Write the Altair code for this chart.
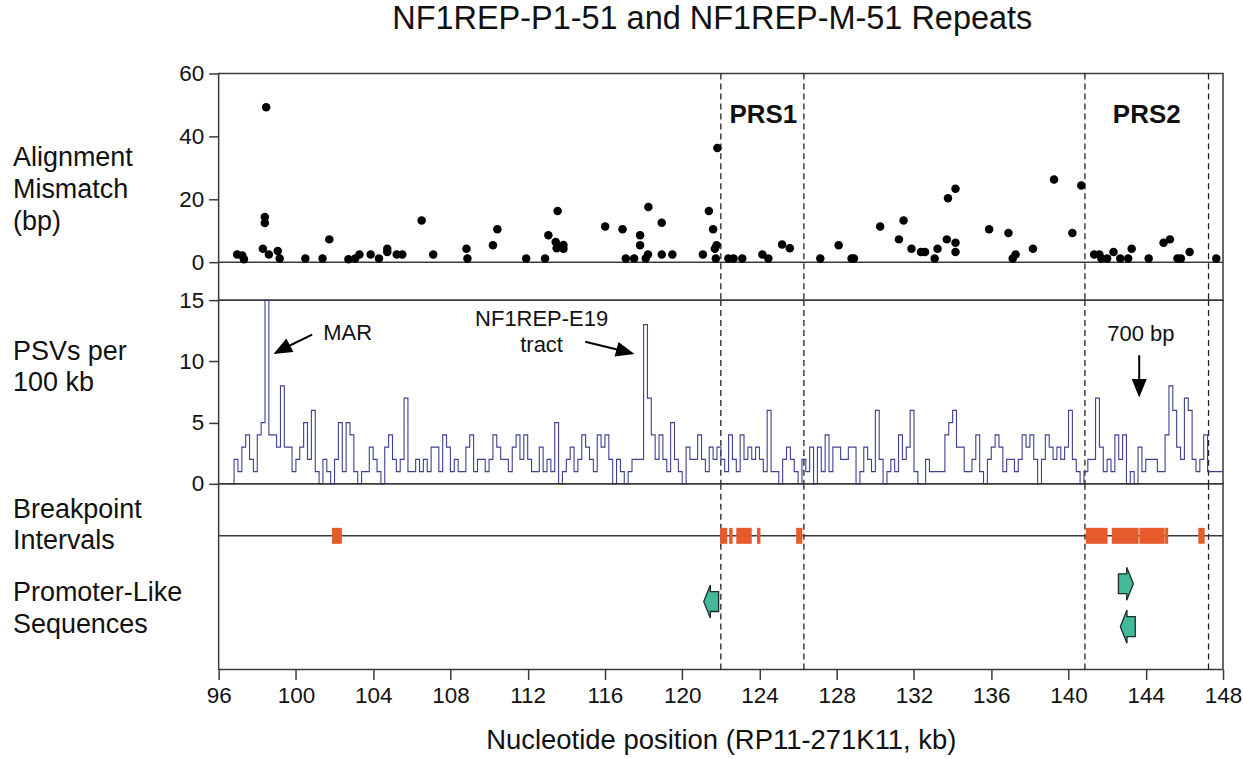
import altair as alt
import pandas as pd

# ---------------- data ----------------
# Alignment mismatch points (kb, bp)
mm_pos = [96.96, 97.22, 97.31, 98.46, 98.39, 98.39, 98.29, 98.6, 99.06, 99.16,
          100.49, 101.38, 101.73, 102.72, 103.07, 103.29, 103.87, 104.3, 104.73, 104.73,
          105.22, 105.51, 106.51, 107.11, 108.83, 108.88, 110.2, 110.43, 111.92, 112.9,
          113.07, 113.55, 113.45, 113.5, 113.6, 113.85, 113.85, 116.01, 116.91, 117.08,
          117.51, 117.82, 117.82, 118.11, 118.23, 118.25, 118.94, 118.94, 119.49, 121.07,
          121.38, 121.6, 121.69, 121.78, 121.74, 121.82, 122.39, 122.66, 123.11, 124.15,
          124.46, 125.17, 125.57, 127.15, 128.1, 128.77, 128.89, 130.25, 131.22, 131.46,
          131.87, 132.36, 132.57, 133.07, 133.22, 133.7, 133.76, 134.15, 134.15, 134.15,
          135.89, 136.89, 137.11, 137.26, 138.16, 139.25, 140.2, 140.66, 141.33, 141.6,
          141.7, 142.0, 142.33, 142.68, 143.09, 143.27, 144.15, 144.92, 145.25, 145.64,
          145.82, 146.27, 147.65]
mm_val = [2.5, 2.2, 1.0, 49.3, 14.4, 12.5, 4.3, 2.5, 3.6, 1.2,
          1.2, 1.2, 7.3, 1.0, 1.2, 2.5, 2.5, 1.2, 4.3, 3.3,
          2.5, 2.5, 13.3, 2.5, 4.3, 1.2, 5.4, 10.5, 1.2, 1.2,
          8.6, 16.3, 6.5, 4.5, 5.0, 5.5, 4.3, 11.4, 10.5, 1.2,
          1.2, 8.6, 5.4, 1.2, 2.5, 17.6, 12.6, 2.5, 2.5, 2.5,
          16.3, 10.5, 4.3, 5.4, 1.2, 36.3, 1.2, 1.2, 1.2, 2.5,
          1.2, 5.7, 4.5, 1.2, 5.4, 1.2, 1.2, 11.4, 7.3, 13.3,
          4.3, 3.3, 3.3, 1.2, 4.3, 7.3, 20.4, 23.4, 6.2, 3.3,
          10.5, 9.3, 1.2, 2.5, 4.3, 26.3, 9.3, 24.4, 2.5, 2.5,
          1.2, 1.2, 3.3, 1.2, 1.2, 4.3, 1.2, 6.2, 7.3, 1.2,
          1.2, 3.3, 1.2]

# PSVs per 100 kb, sampled every 0.2 kb starting at 96.6 kb
psv_start = 96.6
psv_step = 0.2
psv_val = [0, 2, 1, 3, 4, 2, 1, 4, 5, 15,
           4, 4, 3, 8, 3, 3, 1, 2, 3, 5,
           2, 6, 1, 0, 2, 1, 0, 2, 5, 1,
           5, 4, 1, 0, 1, 1, 3, 2, 1, 0,
           3, 4, 2, 1, 2, 7, 1, 1, 2, 1,
           2, 1, 3, 3, 1, 4, 3, 1, 2, 1,
           1, 3, 4, 1, 2, 2, 1, 2, 4, 3,
           2, 2, 1, 3, 4, 2, 4, 2, 1, 1,
           3, 1, 2, 1, 5, 0, 1, 2, 3, 1,
           2, 4, 3, 2, 1, 4, 3, 4, 2, 0,
           2, 1, 0, 1, 2, 2, 2, 13, 7, 4,
           2, 4, 2, 1, 5, 2, 1, 0, 3, 2,
           2, 4, 2, 1, 3, 2, 3, 2, 1, 4,
           2, 1, 4, 2, 3, 2, 3, 2, 1, 6,
           1, 1, 0, 2, 3, 2, 1, 0, 2, 1,
           3, 0, 3, 1, 4, 1, 3, 3, 2, 2,
           3, 3, 0, 1, 3, 2, 1, 6, 2, 0,
           1, 2, 1, 4, 2, 3, 6, 1, 0, 0,
           2, 1, 1, 1, 1, 4, 5, 6, 3, 3,
           1, 1, 2, 4, 1, 0, 2, 3, 4, 3,
           1, 2, 2, 1, 2, 4, 3, 4, 2, 0,
           2, 4, 3, 2, 3, 2, 3, 6, 2, 1,
           0, 1, 2, 2, 7, 3, 1, 2, 1, 4,
           2, 4, 0, 1, 0, 3, 1, 2, 2, 2,
           1, 1, 4, 8, 6, 3, 2, 7, 6, 2,
           1, 2, 4, 1, 1, 1, 1, 1]

# Breakpoint intervals (kb)
bp_start = [101.87, 121.96, 122.43, 122.8, 123.87, 125.9, 140.9, 142.24, 143.67, 145.0, 146.72]
bp_end = [102.38, 122.33, 122.61, 123.6, 124.05, 126.22, 142.02, 143.63, 144.98, 145.16, 147.05]
bp_row = 7.2

# PRS boundaries and labels
prs_bounds = [122.0, 126.3, 140.85, 147.25]
prs_names = ["PRS1", "PRS2"]
prs_label_pos = [124.2, 144.05]
prs_label_val = [46.7, 46.7]

# Promoter-like sequences
promoter_pos = [121.5, 142.97, 143.07]
promoter_row = [3.66, 4.62, 2.31]
promoter_dir = ["left", "right", "left"]

# Annotations in PSV panel
ann_text = ["MAR", "NF1REP-E19", "tract", "700 bp"]
ann_x = [101.42, 112.72, 112.72, 143.75]
ann_y = [12.28, 13.45, 11.3, 12.2]
ann_align = ["left", "center", "center", "center"]
arrow_x = [100.84, 114.98, 143.66]
arrow_y = [12.19, 11.6, 10.5]
arrow_x2 = [99.37, 116.95, 143.66]
arrow_y2 = [11.05, 10.84, 8.0]
arrow_angle = [242, 105, 180]

x_ticks = list(range(96, 149, 4))

# left-hand row labels
lab1_text = ["Alignment", "Mismatch", "(bp)"]
lab1_y = [33.0, 22.86, 12.7]
lab2_text = ["PSVs per", "100 kb"]
lab2_y = [10.76, 8.23]
lab3_text = ["Breakpoint", "Intervals", "Promoter-Like", "Sequences"]
lab3_y = [8.6, 6.94, 4.14, 2.42]

# ---------------- build ----------------
FONT = "Liberation Sans"
W = 1006
LINE = "#3a3a3a"
xscale = alt.Scale(domain=[96, 148], nice=False, zero=False)

mm_df = pd.DataFrame({"pos": mm_pos, "val": mm_val})
psv_df = pd.DataFrame({"pos": [round(psv_start + i * psv_step, 2) for i in range(len(psv_val))],
                       "val": psv_val})
bp_df = pd.DataFrame({"start": bp_start, "end": bp_end})
bp_df["lo"] = bp_row - 0.43
bp_df["hi"] = bp_row + 0.43
dash_df = pd.DataFrame({"pos": prs_bounds})
prs_df = pd.DataFrame({"name": prs_names, "pos": prs_label_pos, "val": prs_label_val})
prom_df = pd.DataFrame({"pos": promoter_pos, "row": promoter_row, "dir": promoter_dir})
ann_df = pd.DataFrame({"t": ann_text, "x": ann_x, "y": ann_y, "al": ann_align})
arr_df = pd.DataFrame({"x": arrow_x, "y": arrow_y, "x2": arrow_x2, "y2": arrow_y2, "ang": arrow_angle})

XNONE = dict(scale=xscale, axis=None)


def yaxis(vals):
    return alt.Axis(values=vals, title=None, labelFontSize=22.5, labelFont=FONT, tickSize=10,
                    tickWidth=1.5, tickColor=LINE, domain=False, grid=False, labelColor="#111",
                    labelPadding=5)


def dashed():
    return alt.Chart(dash_df).mark_rule(color="#222", strokeDash=[6, 4], strokeWidth=1.3).encode(
        x=alt.X("pos:Q", **XNONE))


def left_labels(texts, ys, yscale, ax):
    df = pd.DataFrame({"t": texts, "y": ys})
    return alt.Chart(df).mark_text(align="left", baseline="middle", fontSize=27, font=FONT,
                                   color="#111").encode(
        x=alt.value(-206), y=alt.Y("y:Q", scale=yscale, axis=ax), text="t:N")


# Panel 1
y1 = alt.Scale(domain=[-12, 60], nice=False, zero=False)
ax1 = yaxis([0, 20, 40, 60])
p1_points = alt.Chart(mm_df).mark_point(filled=True, color="black", size=72, opacity=1).encode(
    x=alt.X("pos:Q", **XNONE), y=alt.Y("val:Q", scale=y1, axis=ax1))
p1_zero = alt.Chart(pd.DataFrame({"v": [0]})).mark_rule(color=LINE, strokeWidth=1.5).encode(
    y=alt.Y("v:Q", scale=y1, axis=ax1))
p1_prs = alt.Chart(prs_df).mark_text(fontSize=26, fontWeight="bold", font=FONT, color="#111").encode(
    x=alt.X("pos:Q", **XNONE), y=alt.Y("val:Q", scale=y1, axis=ax1), text="name:N")
p1 = alt.layer(p1_zero, dashed(), p1_points, p1_prs,
               left_labels(lab1_text, lab1_y, y1, ax1)).properties(width=W, height=227)

# Panel 2
y2 = alt.Scale(domain=[0, 15], nice=False, zero=False)
ax2 = yaxis([0, 5, 10, 15])
p2_line = alt.Chart(psv_df).mark_line(interpolate="step-after", strokeWidth=1.1, color="#3e418f").encode(
    x=alt.X("pos:Q", **XNONE), y=alt.Y("val:Q", scale=y2, axis=ax2))
p2_text_l = alt.Chart(ann_df[ann_df["al"] == "left"]).mark_text(
    fontSize=22, font=FONT, baseline="middle", align="left", color="#111").encode(
    x=alt.X("x:Q", **XNONE), y=alt.Y("y:Q", scale=y2, axis=ax2), text="t:N")
p2_text_c = alt.Chart(ann_df[ann_df["al"] == "center"]).mark_text(
    fontSize=22, font=FONT, baseline="middle", align="center", color="#111").encode(
    x=alt.X("x:Q", **XNONE), y=alt.Y("y:Q", scale=y2, axis=ax2), text="t:N")
p2_arr = alt.Chart(arr_df).mark_rule(color="black", strokeWidth=2).encode(
    x=alt.X("x:Q", **XNONE), y=alt.Y("y:Q", scale=y2, axis=ax2), x2="x2:Q", y2="y2:Q")
p2_head = alt.Chart(arr_df).mark_point(filled=True, color="black", opacity=1, size=540,
                                       shape="M0,-1L0.65,0.6L-0.65,0.6Z").encode(
    x=alt.X("x2:Q", **XNONE), y=alt.Y("y2:Q", scale=y2, axis=ax2),
    angle=alt.Angle("ang:Q", scale=None))
p2 = alt.layer(dashed(), p2_line, p2_text_l, p2_text_c, p2_arr, p2_head,
               left_labels(lab2_text, lab2_y, y2, ax2)).properties(width=W, height=184)

# Panel 3
xaxis = alt.Axis(values=x_ticks, format="d", title="Nucleotide position (RP11-271K11, kb)",
                 titleFontSize=27.5, titleFont=FONT, titleFontWeight="normal", titleColor="#111",
                 titlePadding=20, labelFontSize=22.5, labelFont=FONT, labelColor="#111",
                 tickSize=10, tickWidth=1.5, tickColor=LINE, domain=False, grid=False,
                 labelPadding=5, labelFlush=False)
XAX = dict(scale=xscale, axis=xaxis)
y3 = alt.Scale(domain=[0, 10], nice=False, zero=False)
p3_line = alt.Chart(pd.DataFrame({"v": [bp_row]})).mark_rule(color=LINE, strokeWidth=1.5).encode(
    y=alt.Y("v:Q", scale=y3, axis=None))
p3_bars = alt.Chart(bp_df).mark_rect(color="#e65a2b").encode(
    x=alt.X("start:Q", **XAX), x2="end:Q",
    y=alt.Y("lo:Q", scale=y3, axis=None), y2="hi:Q")
left_path = "M-0.45,0L-0.05,-1L-0.05,-0.6L0.45,-0.6L0.45,0.6L-0.05,0.6L-0.05,1Z"
right_path = "M0.45,0L0.05,-1L0.05,-0.6L-0.45,-0.6L-0.45,0.6L0.05,0.6L0.05,1Z"
p3_prom = alt.Chart(prom_df).mark_point(filled=True, fill="#42b99a", stroke="#1d2b2b",
                                        strokeWidth=1.3, opacity=1, size=1100).encode(
    x=alt.X("pos:Q", **XAX), y=alt.Y("row:Q", scale=y3, axis=None),
    shape=alt.Shape("dir:N", scale=alt.Scale(domain=["left", "right"], range=[left_path, right_path]),
                    legend=None))
p3_dash = alt.Chart(dash_df).mark_rule(color="#222", strokeDash=[6, 4], strokeWidth=1.3).encode(
    x=alt.X("pos:Q", **XAX))
lab3_df = pd.DataFrame({"t": lab3_text, "y": lab3_y})
p3_labels = alt.Chart(lab3_df).mark_text(align="left", baseline="middle", fontSize=27, font=FONT,
                                         color="#111").encode(
    x=alt.value(-206), y=alt.Y("y:Q", scale=y3, axis=None), text="t:N")
p3 = alt.layer(p3_dash, p3_line, p3_bars, p3_prom, p3_labels).properties(width=W, height=186)

chart = alt.vconcat(p1, p2, p3, spacing=0, bounds="flush").properties(
    title=alt.TitleParams("NF1REP-P1-51 and NF1REP-M-51 Repeats", fontSize=32.5, font=FONT,
                          fontWeight="normal", color="#111", anchor="middle", offset=26, dx=85),
    padding={"left": 12, "top": 2, "right": 0, "bottom": 2},
).configure_view(stroke=LINE, strokeWidth=1.5)

chart.save("out.html", embed_options={"renderer": "svg", "actions": False})
